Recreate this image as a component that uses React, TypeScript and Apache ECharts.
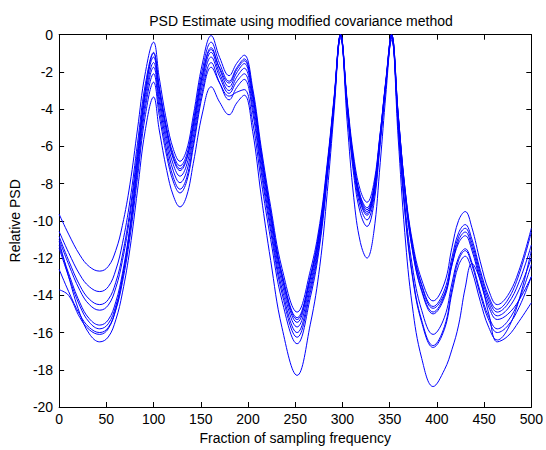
import React, { useEffect, useRef } from "react";
import * as echarts from "echarts";

const titleText = "PSD Estimate using modified covariance method";
const xName = "Fraction of sampling frequency";
const yName = "Relative PSD";

const freqs = [0, 10, 22, 32, 43, 52, 60, 67, 75, 83, 91, 100, 106, 114, 121, 128, 135, 142, 152, 161, 170, 180, 188, 196, 205, 214, 224, 236, 252, 266, 276, 284, 291, 298, 305, 312, 319, 326, 333, 340, 346, 352, 359, 366, 374, 384, 396, 408, 416, 423, 430, 437, 446, 455, 464, 475, 487, 500];

const curveA = [-9.64, -10.71, -11.84, -12.46, -12.7, -12.45, -11.59, -10.24, -8.03, -5.07, -2.12, -0.4, -2.32, -4.69, -6.16, -6.8, -6.19, -4.37, -1.47, -0.05, -1.23, -2.2, -1.54, -1.1, -2.89, -6.07, -9.24, -12.55, -14.9, -12.67, -10.13, -6.85, -3.43, 0, -3.51, -6.57, -8.37, -9.0, -8.04, -5.26, -2.56, -0.3, -4.36, -8.14, -11.08, -13.18, -14.3, -13.34, -11.42, -9.98, -9.5, -10.35, -12.2, -13.75, -14.5, -14.01, -12.66, -10.4];
const curveB = [-10.57, -11.7, -12.9, -13.54, -13.8, -13.54, -12.64, -11.23, -8.92, -5.83, -2.75, -0.95, -2.78, -5.04, -6.44, -7.05, -6.45, -4.66, -1.8, -0.4, -1.56, -2.5, -1.78, -1.3, -3.11, -6.3, -9.5, -12.84, -15.2, -12.95, -10.4, -7.1, -3.65, -0.2, -3.75, -6.84, -8.66, -9.3, -8.28, -5.3, -2.42, 0, -4.23, -8.18, -11.24, -13.43, -14.6, -13.72, -11.96, -10.64, -10.2, -10.97, -12.66, -14.07, -14.75, -14.25, -12.88, -10.6];
const curveC = [-10.84, -12.12, -13.48, -14.21, -14.5, -14.23, -13.3, -11.84, -9.45, -6.25, -3.06, -1.2, -3.03, -5.29, -6.69, -7.3, -6.71, -4.92, -2.09, -0.7, -1.86, -2.8, -2.05, -1.55, -3.36, -6.55, -9.75, -13.09, -15.45, -13.13, -10.51, -7.11, -3.55, 0, -3.78, -7.08, -9.02, -9.7, -8.65, -5.61, -2.67, -0.2, -4.46, -8.43, -11.52, -13.72, -14.9, -14.0, -12.2, -10.85, -10.4, -11.17, -12.83, -14.23, -14.9, -14.47, -13.28, -11.3];
const curveD = [-11.0, -12.33, -13.74, -14.5, -14.8, -14.53, -13.6, -12.14, -9.75, -6.55, -3.36, -1.5, -3.33, -5.59, -6.99, -7.6, -7.0, -5.21, -2.35, -0.95, -2.08, -3.0, -2.28, -1.8, -3.61, -6.8, -10.0, -13.34, -15.7, -13.36, -10.71, -7.28, -3.69, -0.1, -3.94, -7.29, -9.26, -9.95, -8.86, -5.67, -2.59, 0, -4.35, -8.4, -11.55, -13.8, -15.0, -14.12, -12.36, -11.04, -10.6, -11.37, -13.03, -14.43, -15.1, -14.73, -13.7, -12.0];
const curveE = [-11.3, -12.81, -14.4, -15.26, -15.6, -15.32, -14.35, -12.83, -10.34, -7.01, -3.69, -1.75, -3.61, -5.9, -7.33, -7.95, -7.34, -5.52, -2.62, -1.2, -2.27, -3.15, -2.52, -2.1, -3.91, -7.1, -10.3, -13.64, -16.0, -13.6, -10.88, -7.36, -3.68, 0, -3.67, -6.86, -8.74, -9.4, -8.38, -5.4, -2.52, -0.1, -4.74, -9.06, -12.42, -14.82, -16.1, -15.18, -13.34, -11.96, -11.5, -12.23, -13.82, -15.16, -15.8, -15.39, -14.25, -12.35];
const curveF = [-11.46, -12.98, -14.58, -15.45, -15.8, -15.53, -14.57, -13.06, -10.59, -7.31, -4.02, -2.1, -3.96, -6.25, -7.68, -8.3, -7.69, -5.85, -2.93, -1.5, -2.6, -3.5, -2.84, -2.4, -4.2, -7.39, -10.57, -13.9, -16.25, -13.83, -11.08, -7.53, -3.81, -0.1, -4.08, -7.55, -9.59, -10.3, -9.17, -5.87, -2.68, 0, -4.84, -9.35, -12.86, -15.36, -16.7, -15.68, -13.64, -12.11, -11.6, -12.35, -13.98, -15.34, -16.0, -15.64, -14.65, -13.0];
const curveG = [-12.6, -13.79, -15.05, -15.73, -16.0, -15.73, -14.79, -13.31, -10.89, -7.66, -4.43, -2.55, -4.34, -6.54, -7.91, -8.5, -7.89, -6.07, -3.17, -1.75, -2.6, -3.3, -3.09, -2.95, -4.72, -7.86, -11.0, -14.28, -16.6, -14.11, -11.29, -7.64, -3.82, 0, -3.74, -7.01, -8.93, -9.6, -8.56, -5.54, -2.61, -0.15, -4.98, -9.47, -12.97, -15.47, -16.8, -15.82, -13.86, -12.39, -11.9, -12.67, -14.33, -15.73, -16.4, -15.82, -14.24, -11.6];
const curveH = [-11.1, -12.99, -14.99, -16.07, -16.5, -16.24, -15.32, -13.87, -11.5, -8.35, -5.19, -3.35, -5.12, -7.3, -8.66, -9.25, -8.67, -6.93, -4.15, -2.8, -3.63, -4.3, -3.67, -3.25, -5.21, -8.67, -12.13, -15.74, -18.3, -15.55, -12.44, -8.42, -4.21, 0, -4.68, -8.76, -11.16, -12.0, -10.69, -6.88, -3.19, -0.1, -5.55, -10.63, -14.58, -17.4, -18.9, -18.0, -16.9, -15.6, -13.6, -12.3, -13.2, -15.0, -16.5, -16.2, -15.4, -14.4];
const curveI = [-13.7, -14.0, -15.2, -15.85, -16.1, -15.8, -14.74, -13.08, -10.36, -6.74, -3.11, -1.0, -2.86, -5.15, -6.58, -7.2, -6.62, -4.9, -2.14, -0.8, -1.79, -2.6, -1.88, -1.4, -3.21, -6.4, -9.6, -12.94, -15.3, -13.01, -10.42, -7.06, -3.56, -0.05, -3.74, -6.95, -8.84, -9.5, -8.46, -5.42, -2.47, 0, -4.26, -8.23, -11.32, -13.52, -14.7, -13.92, -12.36, -11.19, -10.8, -11.57, -13.23, -14.63, -15.3, -15.02, -14.26, -13.0];

const curves = [curveA, curveB, curveC, curveD, curveE, curveF, curveG, curveH, curveI];

const FONT = "'Liberation Sans', Arial, sans-serif";
const LINE_COLOR = "#0000ff";

export default function App() {
  const ref = useRef<HTMLDivElement>(null);
  useEffect(() => {
    if (!ref.current) return;
    const chart = echarts.init(ref.current, undefined, { renderer: "svg" });
    const axisCommon = {
      type: "value" as const,
      axisLine: { show: true, onZero: false, lineStyle: { color: "#000", width: 1 } },
      axisTick: { show: true, inside: true, length: 5, lineStyle: { color: "#000", width: 1 } },
      splitLine: { show: false },
    };
    chart.setOption({
      animation: false,
      backgroundColor: "#ffffff",
      title: {
        text: titleText,
        left: 296,
        top: 9,
        textAlign: "center",
        textStyle: { fontFamily: FONT, fontSize: 14, fontWeight: "normal", color: "#000" },
      },
      grid: { left: 58.5, right: 12, top: 34.7, bottom: 39.3, containLabel: false },
      xAxis: [
        {
          ...axisCommon,
          position: "bottom",
          min: 0,
          max: 500,
          interval: 50,
          axisLabel: { color: "#000", fontSize: 14, fontFamily: FONT, margin: 5 },
          name: xName,
          nameLocation: "middle",
          nameGap: 24,
          nameTextStyle: { color: "#000", fontSize: 14, fontFamily: FONT },
        },
        {
          ...axisCommon,
          position: "top",
          min: 0,
          max: 500,
          interval: 50,
          axisLabel: { show: false },
        },
      ],
      yAxis: [
        {
          ...axisCommon,
          position: "left",
          min: -20,
          max: 0,
          interval: 2,
          axisLabel: { color: "#000", fontSize: 14, fontFamily: FONT, margin: 6 },
          name: yName,
          nameLocation: "middle",
          nameGap: 34,
          nameRotate: 90,
          nameTextStyle: { color: "#000", fontSize: 14, fontFamily: FONT },
        },
        {
          ...axisCommon,
          position: "right",
          min: -20,
          max: 0,
          interval: 2,
          axisLabel: { show: false },
        },
      ],
      series: curves.map((c, k) => ({
        type: "line",
        name: "run" + (k + 1),
        xAxisIndex: 0,
        yAxisIndex: 0,
        data: freqs.map((f, i) => [f, c[i]]),
        showSymbol: false,
        smooth: 0.4,
        silent: true,
        lineStyle: { color: LINE_COLOR, width: 1 },
      })),
    });
    return () => chart.dispose();
  }, []);
  return (
    <div
      ref={ref}
      style={{ position: "absolute", left: 0, top: 0, width: 546, height: 450, background: "#fff" }}
    />
  );
}
